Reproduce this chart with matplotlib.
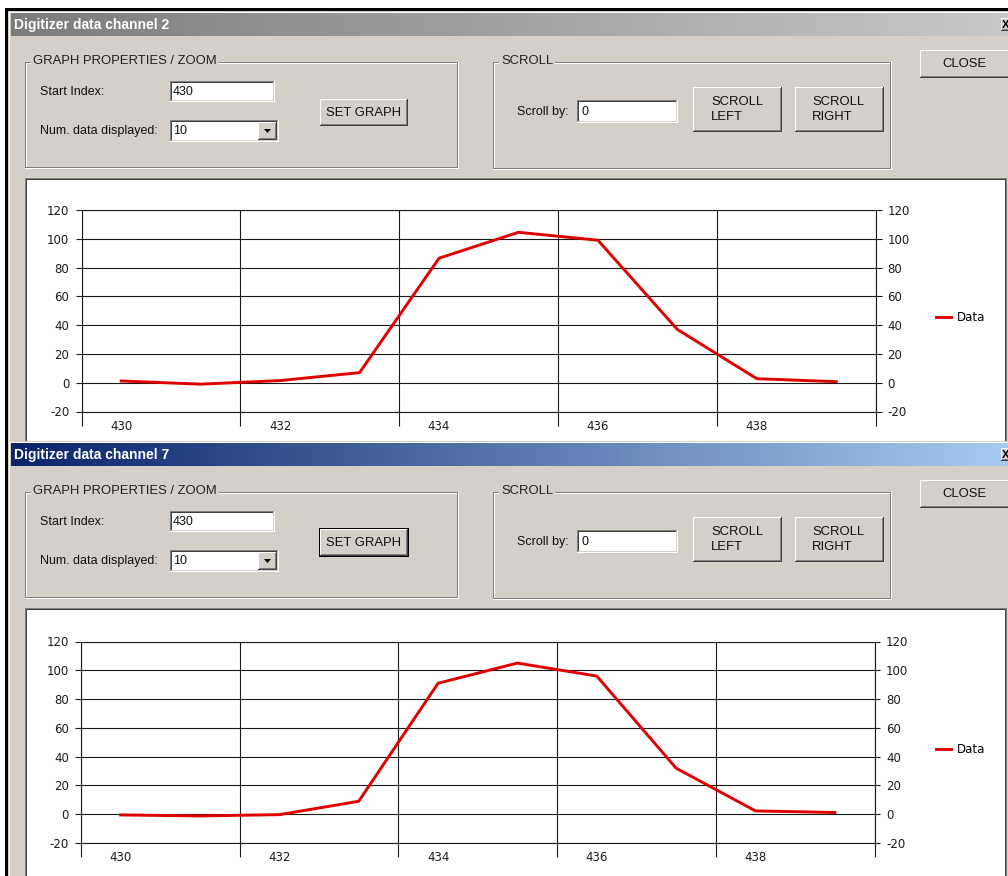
import numpy as np
import matplotlib
matplotlib.use('Agg')
import matplotlib.pyplot as plt
from matplotlib.patches import Rectangle, Polygon
from matplotlib.colors import LinearSegmentedColormap
from matplotlib import font_manager

sample_index = [430, 431, 432, 433, 434, 435, 436, 437, 438, 439]
channel_2_data = [1.2, -1.0, 1.5, 7.0, 86.5, 104.5, 99.0, 37.0, 2.8, 0.7]
channel_7_data = [-0.5, -1.2, -0.3, 9.0, 91.0, 105.0, 96.0, 32.0, 2.3, 1.2]
window_titles = ['Digitizer data channel 2', 'Digitizer data channel 7']
y_ticks = [-20, 0, 20, 40, 60, 80, 100, 120]
x_tick_labels = [430, 432, 434, 436, 438]
start_index = '430'
num_displayed = '10'
scroll_by = '0'

W, H = 1008, 876
FACE = '#d4d0c8'; SHADOW = '#808080'; DARK = '#404040'; GRID = '#1a1a1a'
LINE_RED = '#e00000'
TICK_SIZE = 8.5

plt.rcParams['axes.unicode_minus'] = False

installed = {f.name for f in font_manager.fontManager.ttflist}
UI_FONT = 'Liberation Sans' if 'Liberation Sans' in installed else 'DejaVu Sans'
CAPS_FONT = 'Liberation Sans Narrow' if 'Liberation Sans Narrow' in installed else UI_FONT
CAPS_SIZE = 11 if CAPS_FONT.endswith('Narrow') else 9.4
UI_SIZE = 9

fig = plt.figure(figsize=(W / 100, H / 100), dpi=100, facecolor='white')
gui = fig.add_axes([0, 0, 1, 1])
gui.axis('off')


def box(x, y, w, h, color, z=1):
    gui.add_patch(Rectangle((x, y), w, h, facecolor=color, edgecolor='none',
                            antialiased=False, zorder=z))


def raised(x, y, w, h, z=1):
    box(x, y, w, h, DARK, z); box(x, y, w - 1, h - 1, 'white', z)
    box(x + 1, y + 1, w - 2, h - 2, SHADOW, z); box(x + 1, y + 1, w - 3, h - 3, FACE, z)


def sunken(x, y, w, h, fill='white'):
    box(x, y, w, h, 'white'); box(x, y, w - 1, h - 1, SHADOW)
    box(x + 1, y + 1, w - 2, h - 2, FACE); box(x + 1, y + 1, w - 3, h - 3, DARK)
    box(x + 2, y + 2, w - 4, h - 4, fill)


def groupbox(x, y, w, h, label):
    box(x, y, w, h, 'white'); box(x, y, w - 1, h - 1, SHADOW)
    box(x + 1, y + 1, w - 3, h - 3, 'white'); box(x + 2, y + 2, w - 4, h - 4, FACE)
    gui.text(x + 8, y - 1, label, family=CAPS_FONT, fontsize=CAPS_SIZE, va='center',
             color='#202020', zorder=3,
             bbox=dict(facecolor=FACE, edgecolor='none', pad=1.5))


def ui_text(x, y, s, **kw):
    gui.text(x, y, s, family=kw.pop('family', UI_FONT), fontsize=kw.pop('size', UI_SIZE),
             va='center', color='#101010', zorder=3, **kw)


def window(top, title, title_colors, default_button):
    # frame and body
    box(8, top - 2, W - 8, H - top + 2, FACE)
    box(9, top - 1, W - 9, 1, 'white')
    box(9, top - 1, 1, H - top + 1, 'white')
    grad = np.linspace(0, 1, 256).reshape(1, -1)
    cmap = LinearSegmentedColormap.from_list('bar', title_colors)
    gui.imshow(grad, cmap=cmap, extent=[11, W, top + 23, top], aspect='auto', zorder=2)
    gui.text(14, top + 11.5, title, color='white', fontweight='bold', fontsize=10,
             family=UI_FONT, va='center', zorder=4)
    raised(1001, top + 5, 14, 13, z=2.5)
    gui.text(1002, top + 11.5, 'X', fontsize=8, fontweight='bold', va='center',
             family=UI_FONT, zorder=4)

    o = top - 13
    groupbox(25, o + 62, 434, 107, 'GRAPH PROPERTIES / ZOOM')
    ui_text(40, o + 92, 'Start Index:')
    sunken(170, o + 81, 105, 21)
    ui_text(173, o + 92, start_index)
    ui_text(40, o + 131, 'Num. data displayed:')
    sunken(170, o + 120, 109, 22)
    raised(258, o + 122, 19, 18)
    gui.add_patch(Polygon([(264, o + 129), (271, o + 129), (267.5, o + 133)],
                          closed=True, facecolor='black', edgecolor='none', zorder=2))
    ui_text(173, o + 131, num_displayed)
    if default_button:
        box(319, o + 98, 90, 29, 'black')
        raised(320, o + 99, 88, 27)
    else:
        raised(320, o + 99, 88, 27)
    ui_text(364, o + 112.5, 'SET GRAPH', family=CAPS_FONT, size=CAPS_SIZE, ha='center')

    groupbox(493, o + 62, 399, 108, 'SCROLL')
    ui_text(517, o + 112, 'Scroll by:')
    sunken(577, o + 100, 101, 23)
    ui_text(581, o + 112, scroll_by)
    raised(693, o + 87, 89, 45)
    ui_text(711, o + 102, 'SCROLL', family=CAPS_FONT, size=CAPS_SIZE)
    ui_text(711, o + 117, 'LEFT', family=CAPS_FONT, size=CAPS_SIZE)
    raised(795, o + 87, 89, 45)
    ui_text(812, o + 102, 'SCROLL', family=CAPS_FONT, size=CAPS_SIZE)
    ui_text(812, o + 117, 'RIGHT', family=CAPS_FONT, size=CAPS_SIZE)
    raised(920, o + 50, 90, 28)
    ui_text(964, o + 64, 'CLOSE', family=CAPS_FONT, size=CAPS_SIZE, ha='center')

    # white chart panel
    box(25, o + 178, 982, H - o - 178, SHADOW)
    box(26, o + 179, 980, H - o - 179, DARK)
    box(27, o + 180, 978, H - o - 180, 'white')


def chart(top, left, right, values):
    height = 201.5
    bottom = top + height
    ax = fig.add_axes([left / W, 1 - bottom / H, (right - left) / W, height / H])
    ax.set_facecolor('none')
    ax.plot(sample_index, values, color=LINE_RED, lw=2.1, label='Data')
    ax.set_xlim(429.5, 439.5)
    ax.set_ylim(-20, 120)
    ax.set_xticks(np.arange(429.5, 440, 2))
    ax.set_xticklabels([])
    ax.set_xticks(x_tick_labels, minor=True)
    ax.set_xticklabels([str(v) for v in x_tick_labels], minor=True)
    ax.tick_params(axis='x', which='major', length=10, width=0.8, color=GRID, direction='out')
    ax.tick_params(axis='x', which='minor', length=0, pad=6, labelsize=TICK_SIZE,
                   labelcolor=GRID)
    ax.set_yticks(y_ticks)
    ax.tick_params(axis='y', length=4.3, width=0.8, color=GRID, pad=4.5, labelsize=TICK_SIZE,
                   labelcolor=GRID)
    ax.grid(True, which='major', color=GRID, lw=0.8)
    for s in ax.spines.values():
        s.set_color(GRID); s.set_linewidth(0.8)

    twin = ax.twinx()
    twin.set_ylim(-20, 120)
    twin.set_yticks(y_ticks)
    twin.tick_params(axis='y', length=4.3, width=0.8, color=GRID, pad=4, labelsize=TICK_SIZE,
                     labelcolor=GRID)
    for s in twin.spines.values():
        s.set_visible(False)

    ax.legend(loc='center left', bbox_to_anchor=((936 - left) / (right - left), 0.465),
              frameon=False, fontsize=TICK_SIZE, handlelength=1.25, handletextpad=0.55,
              borderpad=0, borderaxespad=0)


window(13, window_titles[0], ['#7c7c7c', '#c8c8c8'], False)
window(443, window_titles[1], ['#0a246a', '#a6caf0'], True)

# outer black frame of the screenshot
box(5, 8, W - 5, 3, 'black', z=3)
box(5, 8, 3, H - 8, 'black', z=3)

gui.set_xlim(0, W)
gui.set_ylim(H, 0)

chart(210, 81.5, 876, channel_2_data)
chart(641.5, 81, 874.5, channel_7_data)

fig.savefig('out.png', dpi=100, facecolor='white')
